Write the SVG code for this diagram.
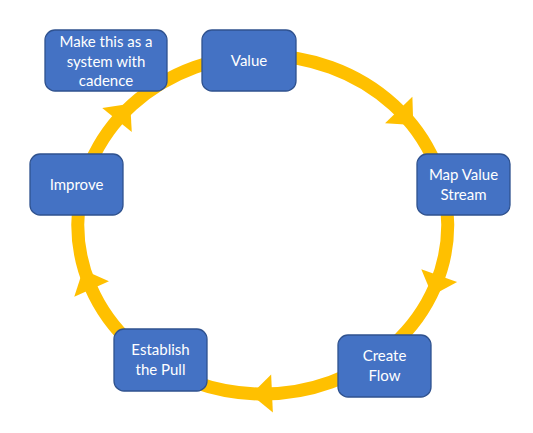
<svg xmlns="http://www.w3.org/2000/svg" xmlns:xlink="http://www.w3.org/1999/xlink" width="533" height="433" viewBox="0 0 533 433">
<style>
.ring{fill:none;stroke:#FFC000;stroke-width:13}
.head{fill:#FFC000}
.box{fill:#4472C4;stroke:#2F528F;stroke-width:1.3}
.lbl{fill:#FFFFFF;font-family:Lato,"Open Sans",sans-serif;font-size:15px;text-anchor:middle}
</style>
<defs>
<path id="ah" d="M0,-19 L21,0 L0,19 Z"/>
</defs>
<rect width="533" height="433" fill="#FFFFFF"/>
<g id="connectors">
<ellipse class="ring" cx="262.75" cy="224.75" rx="185" ry="169.25"/>
<use xlink:href="#ah" class="head" transform="translate(398.7,110) rotate(46)"/>
<use xlink:href="#ah" class="head" transform="translate(439.2,275.6) rotate(109.5)"/>
<use xlink:href="#ah" class="head" transform="translate(272,393.5) rotate(177.4)"/>
<use xlink:href="#ah" class="head" transform="translate(91.6,289) rotate(-114)"/>
<use xlink:href="#ah" class="head" transform="translate(117,120) rotate(-51)"/>
</g>
<g id="node-make">
<rect class="box" x="45" y="30" width="122" height="61" rx="10"/>
<text class="lbl" x="106" y="47">Make this as a</text>
<text class="lbl" x="106" y="66.5">system with</text>
<text class="lbl" x="106" y="85.5">cadence</text>
</g>
<g id="node-value">
<rect class="box" x="202" y="30" width="94" height="61" rx="10"/>
<text class="lbl" x="249" y="66">Value</text>
</g>
<g id="node-map">
<rect class="box" x="417" y="154" width="93" height="61" rx="10"/>
<text class="lbl" x="463.5" y="180">Map Value</text>
<text class="lbl" x="463.5" y="199.5">Stream</text>
</g>
<g id="node-create">
<rect class="box" x="338" y="335" width="93" height="62" rx="10"/>
<text class="lbl" x="384.5" y="361">Create</text>
<text class="lbl" x="384.5" y="381">Flow</text>
</g>
<g id="node-pull">
<rect class="box" x="114" y="329" width="93" height="62" rx="10"/>
<text class="lbl" x="160.5" y="355">Establish</text>
<text class="lbl" x="160.5" y="375">the Pull</text>
</g>
<g id="node-improve">
<rect class="box" x="30" y="154" width="93" height="61" rx="10"/>
<text class="lbl" x="76.5" y="189.5">Improve</text>
</g>
</svg>
